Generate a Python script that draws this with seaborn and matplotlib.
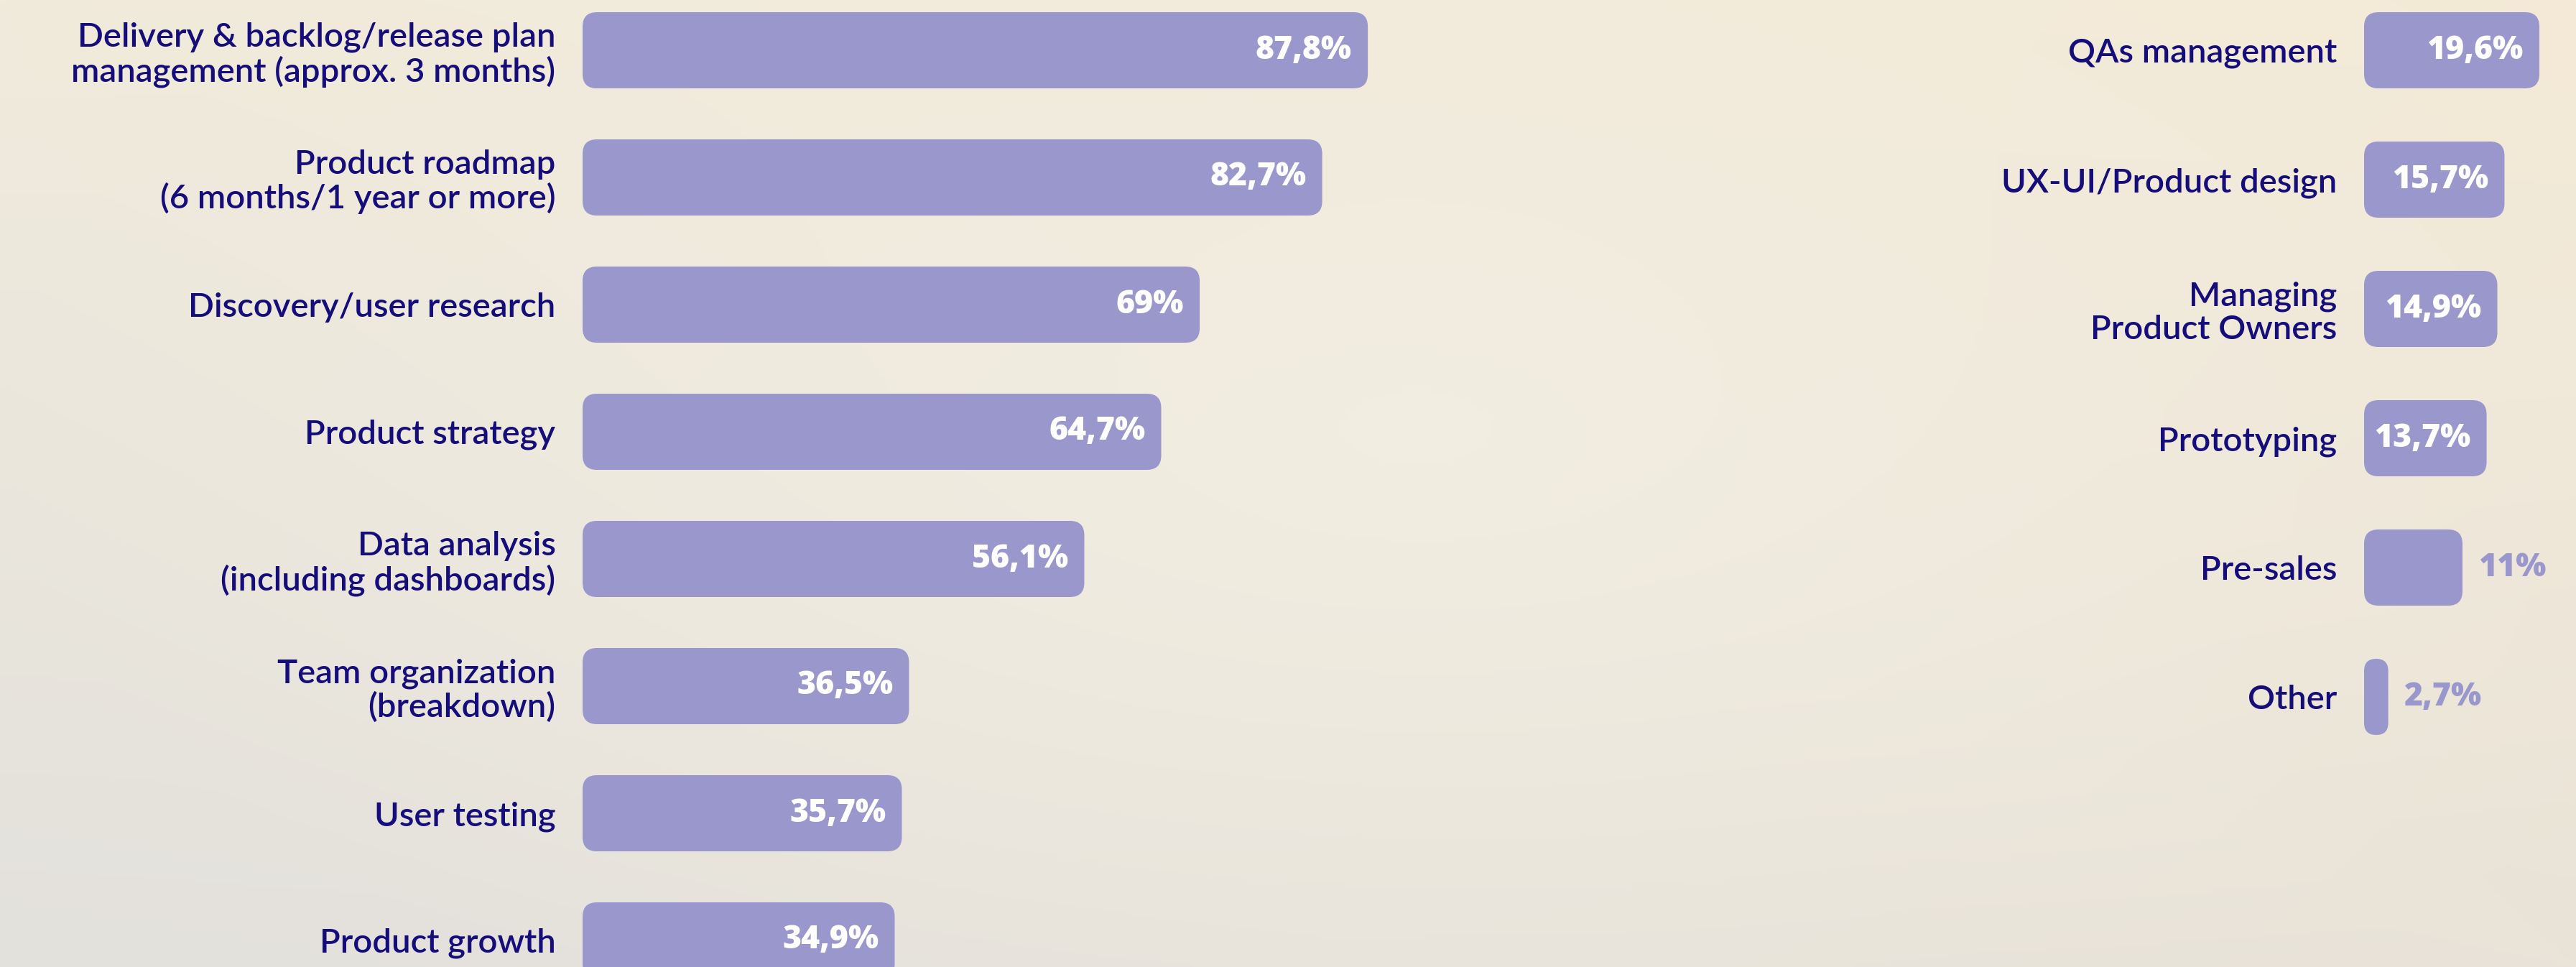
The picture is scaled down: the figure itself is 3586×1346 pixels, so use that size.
import numpy as np
import matplotlib
matplotlib.use("Agg")
import matplotlib.pyplot as plt
import seaborn as sns
from matplotlib.patches import FancyBboxPatch
from matplotlib.colors import to_rgb

# ---------------- data ----------------
left_categories = [
    "Delivery & backlog/release plan\nmanagement (approx. 3 months)",
    "Product roadmap\n(6 months/1 year or more)",
    "Discovery/user research",
    "Product strategy",
    "Data analysis\n(including dashboards)",
    "Team organization\n(breakdown)",
    "User testing",
    "Product growth",
]
left_values = [87.8, 82.7, 69.0, 64.7, 56.1, 36.5, 35.7, 34.9]
left_labels = ["87,8%", "82,7%", "69%", "64,7%", "56,1%", "36,5%", "35,7%", "34,9%"]

right_categories = [
    "QAs management",
    "UX-UI/Product design",
    "Managing\nProduct Owners",
    "Prototyping",
    "Pre-sales",
    "Other",
]
right_values = [19.6, 15.7, 14.9, 13.7, 11.0, 2.7]
right_labels = ["19,6%", "15,7%", "14,9%", "13,7%", "11%", "2,7%"]

# ---------------- style ----------------
BAR = "#9a97cc"
NAVY = "#150d7a"
W, H, DPI = 3586, 1346, 100
PX_PER_PCT = 12.45

sns.set_theme(style="white")
plt.rcParams["font.family"] = ["Lato", "DejaVu Sans"]
VALUE_FONT = ["Open Sans", "DejaVu Sans"]

fig = plt.figure(figsize=(W / DPI, H / DPI), dpi=DPI)

# background gradient
ny, nx = 300, 600
yy, xx = np.mgrid[0:1:ny * 1j, 0:1:nx * 1j]
TL, TR = np.array(to_rgb("#f1ebdc")), np.array(to_rgb("#f4ead6"))
BL, BR = np.array(to_rgb("#e3e1dd")), np.array(to_rgb("#e9e3d8"))
CEN = np.array(to_rgb("#f3efe3"))
img = ((1 - xx)[..., None] * (1 - yy)[..., None] * TL + xx[..., None] * (1 - yy)[..., None] * TR
       + (1 - xx)[..., None] * yy[..., None] * BL + xx[..., None] * yy[..., None] * BR)
d = np.sqrt(((xx - 0.55) / 0.55) ** 2 + ((yy - 0.45) / 0.7) ** 2)
wgt = (np.clip(1 - d, 0, 1) * 0.8)[..., None]
img = img * (1 - wgt) + CEN * wgt
bg = fig.add_axes([0, 0, 1, 1], zorder=-10)
bg.imshow(img, aspect="auto", extent=[0, 1, 0, 1], origin="upper")
bg.axis("off")


def round_bars(ax, radius_px):
    t = ax.transData
    p0 = t.transform((0, 0))
    p1 = t.transform((1, 1))
    sx, sy = abs(p1[0] - p0[0]), abs(p1[1] - p0[1])
    aspect = sx / sy
    for p in list(ax.patches):
        x, y, w, h = p.get_x(), p.get_y(), p.get_width(), p.get_height()
        if w == 0:
            continue
        r = min(radius_px, abs(w) * sx / 2, abs(h) * sy / 2) / sx
        fb = FancyBboxPatch((x, y), w, h,
                            boxstyle=f"round,pad=0,rounding_size={r}",
                            mutation_aspect=aspect, facecolor=BAR,
                            edgecolor="none", linewidth=0, zorder=2)
        p.remove()
        ax.add_patch(fb)


def make_panel(x0_px, width_px, pitch, c0, cats, vals, labs, inside_min):
    ax = fig.add_axes([x0_px / W, 0, width_px / W, 1])
    ax.patch.set_alpha(0)
    sns.barplot(x=vals, y=cats, orient="h", color=BAR, saturation=1,
                width=106 / pitch, ax=ax)
    ax.set_xlim(0, width_px / PX_PER_PCT)
    ax.set_ylim((H - c0) / pitch, -c0 / pitch)
    round_bars(ax, 20)
    for s in ax.spines.values():
        s.set_visible(False)
    ax.set_xticks([])
    ax.set_xlabel("")
    ax.set_ylabel("")
    ax.tick_params(axis="y", length=0, pad=27, labelsize=34, labelcolor=NAVY)
    for tl in ax.get_yticklabels():
        tl.set_linespacing(1.12)
        tl.set_fontweight("semibold")
    for i, (v, lab) in enumerate(zip(vals, labs)):
        if v >= inside_min:
            ax.annotate(lab, xy=(v, i), xytext=(-16, 0), textcoords="offset points",
                        ha="right", va="center", color="white", fontsize=32,
                        fontweight="heavy", family=VALUE_FONT, zorder=3)
        else:
            ax.annotate(lab, xy=(v, i), xytext=(16, 0), textcoords="offset points",
                        ha="left", va="center", color=BAR, fontsize=32,
                        fontweight="heavy", family=VALUE_FONT, zorder=3)
    return ax


make_panel(811, 1250, 177, 70, left_categories, left_values, left_labels, 12)
make_panel(3291, W - 3291, 180, 70, right_categories, right_values, right_labels, 12)

fig.savefig("out.png", dpi=DPI)
